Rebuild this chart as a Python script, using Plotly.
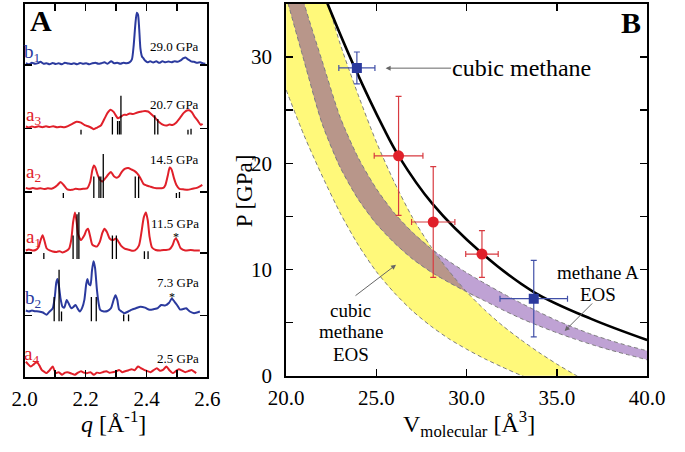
import numpy as np
import plotly.graph_objects as go

# ---------------- Panel A data (q in 1/Angstrom, intensity in arbitrary units) ----------------
b1 = [(2.004,1),(2.014,0),(2.024,1.5),(2.034,0.5),(2.044,1.2),(2.052,2.5),(2.062,0.5),(2.072,1),(2.082,0),(2.092,1.3),
      (2.102,0.3),(2.112,1),(2.122,0),(2.132,1.5),(2.142,0.8),(2.152,0.2),(2.162,1),(2.172,0),(2.182,1.4),(2.192,0.4),
      (2.202,1),(2.212,0),(2.222,1),(2.232,1.6),(2.242,0.4),(2.252,1),(2.262,2),(2.272,0.5),(2.284,3),(2.294,1),
      (2.304,1.5),(2.314,0.5),(2.324,1.5),(2.334,1),(2.344,2),(2.352,5),(2.358,20),(2.363,40),(2.368,53),(2.372,51),
      (2.376,36),(2.380,16),(2.385,8),(2.390,6),(2.396,3.5),(2.403,2),(2.412,3),(2.422,1.8),(2.432,3),(2.442,1.5),
      (2.452,3),(2.462,2),(2.472,2.8),(2.482,2),(2.492,3),(2.502,2.5),(2.512,4),(2.520,6),(2.528,7),(2.536,5),
      (2.546,3),(2.556,2.5),(2.566,1.5),(2.576,2),(2.586,0.8),(2.593,0.5)]
a3 = [(2.004,1),(2.014,0),(2.024,1),(2.034,0.3),(2.046,1.2),(2.058,0.3),(2.07,1.2),(2.082,0.5),(2.094,1.3),(2.106,0.2),
      (2.118,0.8),(2.13,0.2),(2.142,1.5),(2.155,3.5),(2.17,6),(2.185,5),(2.197,2.5),(2.21,1),(2.22,-0.5),(2.227,-1.7),
      (2.238,0),(2.25,2),(2.262,9),(2.272,15),(2.282,18.3),(2.292,16),(2.300,12),(2.306,9.5),(2.315,11),(2.325,13),
      (2.335,13),(2.345,14.5),(2.355,13.8),(2.37,15.5),(2.385,16.5),(2.395,17),(2.405,16.5),(2.415,14),(2.425,11),(2.44,6),
      (2.455,2.7),(2.465,2),(2.475,3),(2.485,2.5),(2.497,5),(2.51,10),(2.522,15),(2.532,17.5),(2.540,17.7),(2.548,16),
      (2.558,11),(2.568,7),(2.578,2.7),(2.584,3.7)]
a2 = [(2.004,2),(2.015,1),(2.027,1.8),(2.04,1),(2.052,1.6),(2.064,0.8),(2.076,1.5),(2.088,1.2),(2.098,2.5),(2.108,5),
      (2.118,8),(2.128,5),(2.14,0.5),(2.155,0),(2.167,1),(2.18,0.5),(2.192,1.2),(2.205,1.5),(2.215,8),(2.222,20),
      (2.227,25),(2.232,23),(2.240,15),(2.248,10),(2.255,8.5),(2.265,12),(2.275,16),(2.283,18.3),(2.293,14),(2.302,12.5),
      (2.31,14),(2.32,19),(2.33,21.7),(2.34,22.3),(2.35,21),(2.36,19.5),(2.37,16.7),(2.38,12),(2.39,6),(2.40,4.5),
      (2.41,3.5),(2.425,2),(2.44,1.5),(2.455,2),(2.462,5),(2.470,15),(2.476,23),(2.482,21),(2.49,12),(2.498,5),
      (2.508,1),(2.52,0.5),(2.535,0),(2.55,1),(2.565,2),(2.575,3.5),(2.583,5)]
a1 = [(2.004,1),(2.014,2),(2.026,1),(2.036,1.5),(2.045,4),(2.053,12),(2.059,16.7),(2.065,11),(2.072,3.3),(2.082,1),
      (2.092,0),(2.105,-0.5),(2.115,0.3),(2.123,-1),(2.137,0.5),(2.146,3),(2.153,12),(2.159,30),(2.165,40),(2.170,32),
      (2.176,17),(2.185,11.7),(2.195,16),(2.203,22),(2.208,23.3),(2.214,17),(2.222,7),(2.230,5.5),(2.237,5),(2.247,10),
      (2.255,19),(2.262,23.3),(2.270,20),(2.279,13.3),(2.289,11.7),(2.300,13.3),(2.308,10),(2.316,6),(2.328,3),(2.342,1.7),
      (2.352,0.8),(2.362,1),(2.375,6),(2.383,19),(2.391,35),(2.398,40),(2.404,32),(2.410,15),(2.418,4),(2.43,1.5),
      (2.445,1),(2.46,1.5),(2.475,2),(2.485,6),(2.492,12),(2.497,13.3),(2.503,10),(2.512,3.3),(2.527,1),(2.545,1.5),
      (2.558,1),(2.575,1)]
b2 = [(2.004,1),(2.014,0),(2.024,1),(2.034,0.3),(2.046,0),(2.06,-1),(2.072,-3.3),(2.082,0),(2.092,3),(2.099,15),
      (2.104,30),(2.108,33.3),(2.113,25),(2.118,13),(2.124,5),(2.130,4),(2.138,11.7),(2.145,8),(2.153,3.3),(2.161,5),
      (2.167,6.7),(2.174,3),(2.181,0),(2.189,4),(2.196,12),(2.202,28),(2.206,33.3),(2.211,28),(2.216,27),(2.221,42),
      (2.226,51.7),(2.231,45),(2.237,23),(2.243,8),(2.248,1.7),(2.26,0),(2.272,0.5),(2.283,3.3),(2.292,12),(2.298,16.7),
      (2.304,12),(2.31,2),(2.318,0),(2.326,-1.7),(2.34,0),(2.352,2),(2.365,3.3),(2.38,5),(2.395,4),(2.41,1.7),
      (2.425,2.5),(2.437,3.5),(2.448,6.7),(2.462,6.3),(2.474,9),(2.483,13.3),(2.492,10),(2.500,6.7),(2.51,2),(2.52,2.5),
      (2.53,3.3),(2.542,0),(2.556,-1.7),(2.575,0)]
a4 = [(2.004,11.7),(2.012,9),(2.020,6.7),(2.030,9),(2.040,11.7),(2.048,8),(2.056,3.3),(2.064,1.5),(2.071,0),(2.082,3),
      (2.092,6.7),(2.102,0),(2.112,1),(2.123,-1.7),(2.133,0.5),(2.144,0.7),(2.154,-0.5),(2.165,-1.7),(2.175,0.5),(2.185,2),
      (2.195,0.5),(2.206,0),(2.216,1),(2.227,-1.7),(2.237,0.5),(2.247,0),(2.258,1.2),(2.268,2),(2.279,0.3),(2.289,1),
      (2.299,1.5),(2.310,3.3),(2.320,1),(2.330,2),(2.341,3),(2.351,4),(2.361,3),(2.372,6.7),(2.382,5),(2.392,3.3),
      (2.403,2),(2.413,1),(2.423,3),(2.434,5),(2.444,2.5),(2.454,3.3),(2.465,6.7),(2.475,3),(2.486,0),(2.496,2),
      (2.506,4),(2.517,2.5),(2.527,1),(2.537,2),(2.548,3.3),(2.556,1.5),(2.563,0)]

offsets = {"b1": 321, "a3": 256, "a2": 192, "a1": 128.7, "b2": 67, "a4": 3.7}
pressures = {"b1": "29.0 GPa", "a3": "20.7 GPa", "a2": "14.5 GPa", "a1": "11.5 GPa", "b2": "7.3 GPa", "a4": "2.5 GPa"}

# calculated reflection positions (q, relative intensity) and their base level
a3_refl = [(2.185,5),(2.288,18),(2.305,14),(2.311,14),(2.316,40),(2.427,20),(2.437,16),(2.536,5),(2.546,6)]
a2_refl = [(2.127,5),(2.227,22),(2.244,22),(2.250,22),(2.258,45),(2.363,22),(2.374,22),(2.498,5),(2.508,6)]
a1_refl = [(2.063,6),(2.159,24),(2.172,46),(2.178,48),(2.288,24),(2.301,24),(2.393,8),(2.405,8)]
b2_refl = [(2.097,25),(2.113,53),(2.121,10),(2.219,25),(2.235,25),(2.325,7),(2.341,7)]
refl_base = {"a3": 248.7, "a2": 183.7, "a1": 121, "b2": 57}

q_tickvals = [2.0, 2.1, 2.2, 2.3, 2.4, 2.5, 2.6]
q_ticktext = ["2.0", "", "2.2", "", "2.4", "", "2.6"]

# ---------------- Panel B data ----------------
V_grid = [20, 21, 22, 23, 24, 25, 26, 27, 28, 29, 30, 31, 32, 33, 34, 35, 36, 37, 38, 39, 40]
cubic_hi = [50, 43.5, 37.0, 31.2, 26.4, 22.0, 18.2, 14.9, 12.2, 9.9, 7.9, 6.2, 4.7, 3.4, 2.2, 1.1, 0.1, -0.8, -1.6, -2.3, -3.0]
cubic_lo = [26.9, 22.6, 18.8, 15.3, 12.3, 9.8, 7.8, 6.1, 4.7, 3.5, 2.5, 1.6, 0.8, 0.05, -0.6, -1.2, -1.7, -2.2, -2.6, -3.0, -3.4]
methA_hi = [41.0, 35.0, 29.6, 24.3, 20.5, 17.6, 15.3, 13.5, 12.0, 10.8, 9.7, 8.7, 7.75, 6.85, 6.0, 5.2, 4.5, 3.85, 3.3, 2.8, 2.35]
methA_lo = [35.7, 29.6, 23.7, 19.6, 16.6, 14.3, 12.5, 11.0, 9.8, 8.8, 7.9, 7.05, 6.2, 5.4, 4.7, 4.05, 3.45, 2.9, 2.4, 1.95, 1.5]

eos_V = [22.0, 22.3, 23.8, 25.4, 26.23, 28.1, 30.8, 33.7, 36.9, 40.0]
eos_P = [36.3, 35.0, 29.0, 23.3, 20.7, 16.2, 11.6, 7.9, 5.35, 3.36]

red_V = [26.23, 28.15, 30.85]
red_P = [20.7, 14.47, 11.45]
red_dV = [1.35, 1.2, 0.9]
red_dP = [5.6, 5.22, 2.2]

blue_V = [23.92, 33.72]
blue_P = [28.97, 7.25]
blue_dV = [1.0, 1.87]
blue_dP = [1.5, 3.6]

V_tickvals = [20, 25, 30, 35, 40]
V_ticktext = ["20.0", "25.0", "30.0", "35.0", "40.0"]
P_tickvals = [0, 5, 10, 15, 20, 25, 30, 35]
P_ticktext = ["0", "", "10", "", "20", "", "30", ""]

# ---------------- style ----------------
RED = "#E0202A"
BLUE = "#2B3A9E"
SERIF = "Liberation Serif"
W, H = 685, 452


def px(x, y):
    return x / W, 1 - y / H


fig = go.Figure()

trace_colors = {"b1": BLUE, "a3": RED, "a2": RED, "a1": RED, "b2": BLUE, "a4": RED}
for name, pairs in [("b1", b1), ("a3", a3), ("a2", a2), ("a1", a1), ("b2", b2), ("a4", a4)]:
    qs = [p[0] for p in pairs]
    ys = [p[1] + offsets[name] for p in pairs]
    fig.add_trace(go.Scatter(x=qs, y=ys, mode="lines", line=dict(color=trace_colors[name], width=2, shape="spline", smoothing=0.6),
                             xaxis="x", yaxis="y", showlegend=False, hoverinfo="skip"))

for name, refl in [("a3", a3_refl), ("a2", a2_refl), ("a1", a1_refl), ("b2", b2_refl)]:
    xs, ys = [], []
    base = refl_base[name]
    for q, h in refl:
        xs += [q, q, None]
        ys += [base, base + h, None]
    fig.add_trace(go.Scatter(x=xs, y=ys, mode="lines", line=dict(color="black", width=1.3),
                             xaxis="x", yaxis="y", showlegend=False, hoverinfo="skip"))

# ---- Panel B bands ----
Vg = np.array(V_grid, dtype=float)
c_hi = np.array(cubic_hi); c_lo = np.array(cubic_lo)
m_hi = np.array(methA_hi); m_lo = np.array(methA_lo)
overlap_hi = np.maximum(np.minimum(m_hi, c_hi), m_lo)

YELLOW = "#FFF97A"
PURPLE = "#BFA2D4"
BROWN = "#B8968A"
spl = dict(shape="spline", smoothing=0.7)


def band(lo, hi, color):
    fig.add_trace(go.Scatter(x=Vg, y=lo, mode="lines", line=dict(width=0, **spl), xaxis="x2", yaxis="y2",
                             showlegend=False, hoverinfo="skip"))
    fig.add_trace(go.Scatter(x=Vg, y=hi, mode="lines", line=dict(width=0, **spl), fill="tonexty", fillcolor=color,
                             xaxis="x2", yaxis="y2", showlegend=False, hoverinfo="skip"))


band(c_lo, c_hi, YELLOW)
band(m_lo, m_hi, PURPLE)
band(m_lo, overlap_hi, BROWN)

for arr in [c_lo, c_hi, m_lo, m_hi]:
    fig.add_trace(go.Scatter(x=Vg, y=arr, mode="lines", line=dict(color="#7d7d7d", width=1, dash="4px,3px", **spl),
                             xaxis="x2", yaxis="y2", showlegend=False, hoverinfo="skip"))

fig.add_trace(go.Scatter(x=eos_V, y=eos_P, mode="lines", line=dict(color="black", width=2.6, shape="spline", smoothing=1.0),
                         xaxis="x2", yaxis="y2", showlegend=False, hoverinfo="skip"))

fig.add_trace(go.Scatter(x=red_V, y=red_P, mode="markers", marker=dict(color=RED, size=11, symbol="circle"),
                         error_x=dict(type="data", array=red_dV, color="#D83A40", thickness=1.2, width=3),
                         error_y=dict(type="data", array=red_dP, color="#D83A40", thickness=1.2, width=3),
                         xaxis="x2", yaxis="y2", showlegend=False))
fig.add_trace(go.Scatter(x=blue_V, y=blue_P, mode="markers", marker=dict(color=BLUE, size=10, symbol="square"),
                         error_x=dict(type="data", array=blue_dV, color="#4150A8", thickness=1.2, width=3),
                         error_y=dict(type="data", array=blue_dP, color="#4150A8", thickness=1.2, width=3),
                         xaxis="x2", yaxis="y2", showlegend=False))

axis_common = dict(showline=True, linewidth=2, linecolor="black", mirror="ticks", ticks="inside", ticklen=7,
                   tickwidth=1.5, tickcolor="black", showgrid=False, zeroline=False,
                   tickfont=dict(family=SERIF, size=21, color="black"))

fig.update_layout(
    width=W, height=H, margin=dict(l=0, r=0, t=0, b=0), paper_bgcolor="white", plot_bgcolor="white",
    xaxis=dict(domain=[7 / W, 200 / W], range=[2.0, 2.6], tickvals=q_tickvals, ticktext=q_ticktext,
               anchor="y", ticklabelstandoff=2, **axis_common),
    yaxis=dict(domain=[1 - 387 / H, 1 - 4 / H], range=[0, 383], tickvals=[63, 127, 190, 255, 320],
               showticklabels=False, anchor="x", **axis_common),
    xaxis2=dict(domain=[283 / W, 664 / W], range=[20, 40], tickvals=V_tickvals, ticktext=V_ticktext,
                anchor="y2", ticklabelstandoff=2, **axis_common),
    yaxis2=dict(domain=[1 - 386 / H, 1 - 4 / H], range=[0, 35], tickvals=P_tickvals, ticktext=P_ticktext,
                anchor="x2", ticklabelstandoff=8, **axis_common),
)

ann = []


def text(x, y, s, size, color="black", xanchor="center", bold=False, angle=0):
    X, Y = px(x, y)
    if bold:
        s = "<b>" + s + "</b>"
    ann.append(dict(x=X, y=Y, xref="paper", yref="paper", text=s, showarrow=False, xanchor=xanchor, yanchor="middle",
                    textangle=angle, font=dict(family=SERIF, size=size, color=color)))


def arrow(x_tip, y_tip, x_tail, y_tail):
    X, Y = px(x_tip, y_tip)
    ann.append(dict(x=X, y=Y, xref="paper", yref="paper", text="", showarrow=True, ax=x_tail - x_tip, ay=y_tail - y_tip,
                    axref="pixel", ayref="pixel", arrowhead=2, arrowsize=1, arrowwidth=1, arrowcolor="#666666"))


text(24, 21, "A", 30, bold=True)
text(647, 23, "B", 30, bold=True)

labels = [("b1", "b<sub>1</sub>", 15, 54), ("a3", "a<sub>3</sub>", 16, 119), ("a2", "a<sub>2</sub>", 16, 178),
          ("a1", "a<sub>1</sub>", 16, 245), ("b2", "b<sub>2</sub>", 16, 307), ("a4", "a<sub>4</sub>", 14, 365)]
for name, s, x, y in labels:
    text(x, y, s, 19, color=trace_colors[name])
p_pos = {"b1": 48, "a3": 107, "a2": 164, "a1": 230, "b2": 290, "a4": 368}
for name, s in pressures.items():
    text(193, p_pos[name], s, 13, xanchor="right")
text(167, 243, "*", 12)
text(163, 305, "*", 12)

text(101, 433, "<i>q</i> [Å<sup>-1</sup>]", 24)
text(239, 196, "P [GPa]", 23, angle=-90)
text(476, 436, "V<sub>molecular</sub> [Å<sup>3</sup>]", 24)

text(531, 70, "cubic methane", 24)
arrow(388, 70, 455, 70)
text(351, 319, "cubic", 19)
text(351, 341, "methane", 19)
text(351, 364, "EOS", 19)
arrow(399, 272, 357, 304)
text(612, 280, "methane A", 19)
text(612, 303, "EOS", 19)
arrow(577, 340, 606, 311)

fig.update_layout(annotations=ann)
fig.write_html("out.html", config={"displayModeBar": False, "staticPlot": True},
               post_script="document.body.style.margin='0';document.body.style.overflow='hidden';")
